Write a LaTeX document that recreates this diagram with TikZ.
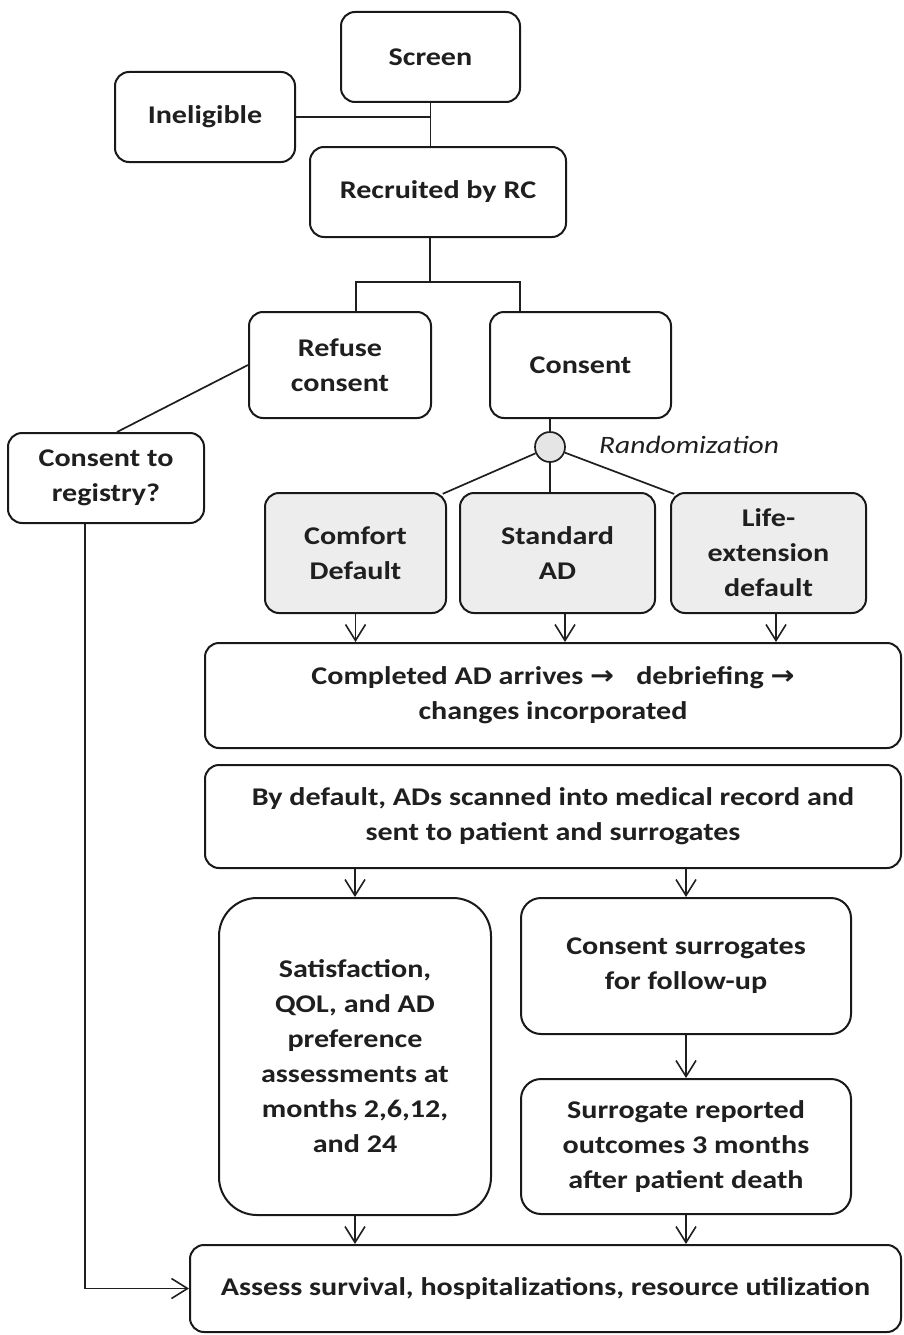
\documentclass[tikz,border=0pt]{standalone}
\usepackage{fontspec}
\setmainfont{Carlito}[FakeStretch=1.18]
\newfontfamily\arrowfont{DejaVu Sans}[FakeStretch=1.1]
\usetikzlibrary{arrows.meta}
\begin{document}
\begin{tikzpicture}[x=1pt,y=-1pt,
  box/.style={draw=black!90, line width=2pt, rounded corners=14pt, align=center,
    inner sep=0pt, font=\fontsize{25.5}{35}\selectfont\bfseries, text=black!88},
  gbox/.style={box, fill=black!7},
  conn/.style={line width=1.7pt, draw=black!88},
  arr/.style={conn, -{Straight Barb[length=16pt,width=20pt,line width=1.6pt]}},
  sz/.style 2 args={minimum width=#1pt, minimum height=#2pt}]
\useasboundingbox (0,0) rectangle (903,1335);
\fill[white] (0,0) rectangle (903,1335);

\node[box, sz={179}{90}] (screen) at (430.5,57) {Screen};
\node[box, sz={180}{90}] (inel) at (205,117) {Ineligible};
\node[box, sz={256}{90}] (recr) at (438,192) {Recruited by RC};
\node[box, sz={182}{106}] (refuse) at (340,365) {Refuse\\consent};
\node[box, sz={181}{106}] (consent) at (580.5,365) {Consent};
\node[box, sz={196}{90}] (reg) at (106,478) {Consent to\\registry?};
\node[draw=black!88, line width=1.7pt, circle, fill=black!10, minimum size=30pt, inner sep=0pt] (circ) at (550,447) {};
\node[font=\fontsize{25}{30}\selectfont\itshape, text=black!88, anchor=west, inner sep=0pt] (rlab) at (599,445) {Randomization};
\node[gbox, sz={181}{120}] (comfort) at (355.5,553) {Comfort\\Default};
\node[gbox, sz={195}{120}] (standard) at (557.5,553) {Standard\\AD};
\node[gbox, sz={195}{120}] (life) at (768.5,553) {Life-\\extension\\default};
\node[box, sz={696}{105}] (completed) at (553,695.5) {Completed AD arrives {\arrowfont\fontsize{26}{26}\selectfont\bfseries →}\hspace{0.6em} debriefing {\arrowfont\fontsize{26}{26}\selectfont\bfseries →}\\changes incorporated};
\node[box, sz={696}{103}] (bydef) at (553,816.5) {By default, ADs scanned into medical record and\\sent to patient and surrogates};
\node[box, rounded corners=38pt, sz={272}{317}] (satis) at (355,1056.5) {Satisfaction,\\QOL, and AD\\preference\\assessments at\\months 2,6,12,\\and 24};
\node[box, rounded corners=20pt, sz={330}{136}] (csur) at (686,966) {Consent surrogates\\for follow-up};
\node[box, rounded corners=20pt, sz={330}{135}] (srep) at (686,1146.5) {Surrogate reported\\outcomes 3 months\\after patient death};
\node[box, sz={711}{87}] (assess) at (545.5,1288.5) {Assess survival, hospitalizations, resource utilization};

% top connectors
\draw[conn] (screen.south) -- (screen.south |- recr.north);
\draw[conn] (inel.east) -- (inel.east -| screen.south);
\coordinate (split) at (430,282);
\draw[conn] (recr.south -| split) -- (split);
\draw[conn] (split) -| ([xshift=16pt]refuse.north);
\draw[conn] (split) -| ([xshift=-60.5pt]consent.north);
\draw[conn] (refuse.west) -- ([xshift=11pt]reg.north);
% randomization
\draw[conn] (consent.south -| circ) -- (circ.north);
\draw[conn, shorten >=3pt] (circ) -- ([xshift=-7pt,yshift=-3pt]comfort.north east);
\draw[conn] (circ.south) -- (circ |- standard.north);
\draw[conn, shorten >=3pt] (circ) -- ([xshift=7pt,yshift=-3pt]life.north west);
% arrows to completed
\draw[arr] (comfort.south) -- (comfort.south |- completed.north);
\draw[arr] ([xshift=7.5pt]standard.south) -- ([xshift=7.5pt]standard.south |- completed.north);
\draw[arr] ([xshift=7.5pt]life.south) -- ([xshift=7.5pt]life.south |- completed.north);
% lower arrows
\draw[arr] (bydef.south -| satis.north) -- (satis.north);
\draw[arr] (bydef.south -| csur.north) -- (csur.north);
\draw[arr] (csur.south) -- (srep.north);
\draw[arr] (satis.south) -- (satis.south |- assess.north);
\draw[arr] (srep.south) -- (srep.south |- assess.north);
\draw[arr] ([xshift=-21pt]reg.south) |- (assess.west);
\end{tikzpicture}
\end{document}
